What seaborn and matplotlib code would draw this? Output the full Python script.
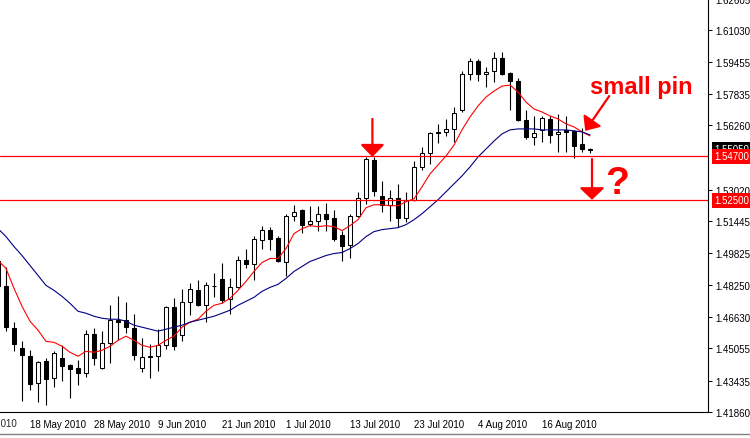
import numpy as np
import pandas as pd
import matplotlib
matplotlib.use('Agg')
import matplotlib.pyplot as plt
import matplotlib.transforms as mtransforms
from matplotlib.lines import Line2D
import seaborn as sns

# GBPUSD daily bars, 12 May 2010 (half cut at the left edge) .. 24 Aug 2010
dates = pd.bdate_range('2010-05-12', '2010-08-24')

opens = [1.4942, 1.4817, 1.4607, 1.4506, 1.4466, 1.4331, 1.4441, 1.4356, 1.4456, 1.4421,
         1.4406, 1.4381, 1.4577, 1.4406, 1.4531, 1.4647, 1.4647, 1.4607, 1.4406, 1.4461,
         1.4466, 1.4521, 1.4712, 1.4572, 1.4737, 1.4797, 1.4722, 1.4817, 1.4852, 1.4752,
         1.4812, 1.4952, 1.4927, 1.5052, 1.5102, 1.5062, 1.4937, 1.5172, 1.5202, 1.5132,
         1.5147, 1.5182, 1.5162, 1.5077, 1.5027, 1.5172, 1.5262, 1.5452, 1.5272, 1.5227,
         1.5262, 1.5162, 1.5252, 1.5417, 1.5487, 1.5593, 1.5593, 1.5608, 1.5703, 1.5883,
         1.5948, 1.5883, 1.5898, 1.5963, 1.5888, 1.5848, 1.5653, 1.5568, 1.5603, 1.5658,
         1.5583, 1.5603, 1.5598, 1.5532, 1.5504]
highs = [1.4982, 1.4912, 1.4637, 1.4541, 1.4496, 1.4441, 1.4456, 1.4491, 1.4521, 1.4426,
         1.4446, 1.4597, 1.4607, 1.4592, 1.4722, 1.4767, 1.4737, 1.4677, 1.4556, 1.4526,
         1.4602, 1.4717, 1.4757, 1.4802, 1.4832, 1.4847, 1.4837, 1.4882, 1.4932, 1.4857,
         1.4972, 1.5007, 1.5072, 1.5122, 1.5117, 1.5072, 1.5182, 1.5227, 1.5207, 1.5222,
         1.5222, 1.5237, 1.5202, 1.5097, 1.5182, 1.5292, 1.5467, 1.5467, 1.5347, 1.5302,
         1.5332, 1.5292, 1.5447, 1.5517, 1.5593, 1.5633, 1.5658, 1.5718, 1.5898, 1.5963,
         1.5958, 1.5918, 1.5993, 1.5993, 1.5893, 1.5863, 1.5703, 1.5673, 1.5673, 1.5673,
         1.5683, 1.5673, 1.5603, 1.5613, 1.5512]
lows = [1.4797, 1.4592, 1.4491, 1.4241, 1.4296, 1.4236, 1.4221, 1.4311, 1.4341, 1.4256,
        1.4321, 1.4361, 1.4421, 1.4401, 1.4431, 1.4546, 1.4582, 1.4446, 1.4386, 1.4356,
        1.4391, 1.4501, 1.4496, 1.4541, 1.4672, 1.4717, 1.4637, 1.4762, 1.4732, 1.4677,
        1.4807, 1.4907, 1.4847, 1.5007, 1.5002, 1.4937, 1.4867, 1.5147, 1.5087, 1.5122,
        1.5097, 1.5097, 1.5047, 1.4942, 1.4962, 1.5167, 1.5232, 1.5272, 1.5192, 1.5147,
        1.5117, 1.5142, 1.5247, 1.5402, 1.5432, 1.5537, 1.5573, 1.5542, 1.5693, 1.5853,
        1.5848, 1.5818, 1.5843, 1.5878, 1.5703, 1.5648, 1.5557, 1.5527, 1.5542, 1.5537,
        1.5492, 1.5492, 1.5462, 1.5492, 1.5487]
closes = [1.4817, 1.4612, 1.4526, 1.4471, 1.4326, 1.4436, 1.4351, 1.4481, 1.4416, 1.4401,
          1.4381, 1.4577, 1.4456, 1.4531, 1.4647, 1.4637, 1.4612, 1.4471, 1.4461, 1.4466,
          1.4521, 1.4712, 1.4516, 1.4737, 1.4802, 1.4722, 1.4822, 1.4818, 1.4747, 1.4812,
          1.4952, 1.4927, 1.5057, 1.5102, 1.5057, 1.4942, 1.5172, 1.5192, 1.5127, 1.5147,
          1.5182, 1.5157, 1.5057, 1.5022, 1.5172, 1.5262, 1.5457, 1.5297, 1.5227, 1.5262,
          1.5162, 1.5252, 1.5417, 1.5487, 1.5588, 1.5588, 1.5608, 1.5688, 1.5883, 1.5948,
          1.5883, 1.5893, 1.5963, 1.5883, 1.5848, 1.5653, 1.5568, 1.5588, 1.5663, 1.5578,
          1.5593, 1.5593, 1.5522, 1.5507, 1.5505]

# moving averages as drawn on the chart (red = fast, navy = slow)
ma_fast = [1.4947, 1.4907, 1.4807, 1.4717, 1.4642, 1.4597, 1.4541, 1.4536, 1.4516, 1.4486,
           1.4466, 1.4491, 1.4486, 1.4496, 1.4516, 1.4546, 1.4567, 1.4546, 1.4521, 1.4511,
           1.4521, 1.4546, 1.4567, 1.4612, 1.4637, 1.4652, 1.4692, 1.4722, 1.4732, 1.4757,
           1.4797, 1.4842, 1.4892, 1.4937, 1.4957, 1.4957, 1.5007, 1.5082, 1.5107, 1.5122,
           1.5117, 1.5122, 1.5117, 1.5097, 1.5122, 1.5152, 1.5212, 1.5227, 1.5227, 1.5222,
           1.5222, 1.5242, 1.5257, 1.5317, 1.5382, 1.5427, 1.5472, 1.5527, 1.5603, 1.5668,
           1.5723, 1.5768, 1.5798, 1.5823, 1.5828, 1.5793, 1.5743, 1.5708, 1.5693, 1.5673,
           1.5658, 1.5633, 1.5618, 1.5593, 1.5573]
ma_slow = [1.5107, 1.5067, 1.5017, 1.4972, 1.4922, 1.4872, 1.4822, 1.4797, 1.4767, 1.4732,
           1.4692, 1.4682, 1.4667, 1.4657, 1.4652, 1.4652, 1.4642, 1.4622, 1.4612, 1.4602,
           1.4592, 1.4602, 1.4612, 1.4622, 1.4637, 1.4647, 1.4657, 1.4667, 1.4682, 1.4697,
           1.4722, 1.4742, 1.4762, 1.4792, 1.4812, 1.4827, 1.4857, 1.4892, 1.4917, 1.4942,
           1.4957, 1.4972, 1.4982, 1.4987, 1.5007, 1.5032, 1.5067, 1.5092, 1.5102, 1.5107,
           1.5112, 1.5127, 1.5152, 1.5182, 1.5217, 1.5252, 1.5292, 1.5332, 1.5372, 1.5417,
           1.5467, 1.5507, 1.5547, 1.5583, 1.5603, 1.5608, 1.5608, 1.5608, 1.5603, 1.5603,
           1.5603, 1.5603, 1.5598, 1.5593, 1.5578]

levels = [1.5470, 1.5250]
level_labels = ['1.54700', '1.52500']
last_price = 1.5505
last_label = '1.55050'

price_ticks = [1.62605, 1.61030, 1.59455, 1.57835, 1.56260, 1.53020, 1.51445,
               1.49825, 1.48250, 1.46630, 1.45055, 1.43435, 1.41860]
date_labels = ['6 May 2010', '18 May 2010', '28 May 2010', '9 Jun 2010', '21 Jun 2010',
               '1 Jul 2010', '13 Jul 2010', '23 Jul 2010', '4 Aug 2010', '16 Aug 2010']

df = pd.DataFrame({'date': dates, 'open': opens, 'high': highs, 'low': lows,
                   'close': closes, 'ma_fast': ma_fast, 'ma_slow': ma_slow})
df['i'] = np.arange(len(df))

sns.set_style('white')
plt.rcParams['font.family'] = ['Liberation Sans', 'DejaVu Sans']

fig = plt.figure(figsize=(7.5, 4.39), dpi=100)
ax = fig.add_axes([0, 26 / 439, 708 / 750, 413 / 439])
ax.set_facecolor('white')

# candles
bull = df['close'] >= df['open']
ax.vlines(df['i'], df['low'], df['high'], color='black', lw=0.8, zorder=2)
body = (df['close'] - df['open']).abs().clip(lower=0.00005)
ax.bar(df['i'], body, bottom=df[['open', 'close']].min(axis=1), width=0.56,
       color=np.where(bull, 'white', 'black'), edgecolor='black', lw=0.75, zorder=3)

# moving averages
sns.lineplot(data=df, x='i', y='ma_fast', color='#ff0000', lw=0.8, ax=ax, zorder=4)
sns.lineplot(data=df, x='i', y='ma_slow', color='#000080', lw=0.8, ax=ax, zorder=4)

for lv in levels:
  ax.axhline(lv, color='#ff0000', lw=0.9, zorder=5)

ax.set_xlim(0.25, 88.75)
ax.set_ylim(1.41911, 1.62582)

# axes look like the terminal window
for side in ['left', 'top']:
  ax.spines[side].set_visible(False)
for side in ['right', 'bottom']:
  ax.spines[side].set_color('black')
  ax.spines[side].set_linewidth(0.8)
ax.yaxis.tick_right()
ax.set_yticks(price_ticks, ['%.5f' % p for p in price_ticks])
ax.tick_params(axis='y', direction='out', length=3, width=0.7, pad=2, labelsize=7, colors='black')

label_days = pd.to_datetime(date_labels, format='%d %b %Y')
label_pos = [np.busday_count(dates[0].date(), d.date()) for d in label_days]
ax.set_xticks([p for p in label_pos if p > 0], [l for p, l in zip(label_pos, date_labels) if p > 0])
for lbl in ax.get_xticklabels():
  lbl.set_ha('left')
ax.tick_params(axis='x', direction='out', length=3, width=0.7, pad=2, labelsize=7, colors='black')
for p, l in zip(label_pos, date_labels):
  if p <= 0:
    ax.annotate(l, xy=(p, 0), xycoords=ax.get_xaxis_transform(), xytext=(0, -4.3),
                textcoords='offset points', ha='left', va='top', fontsize=7, annotation_clip=False)
ax.set_xlabel('')
ax.set_ylabel('')

# price boxes on the scale
trans = mtransforms.blended_transform_factory(ax.transAxes, ax.transData)
ax.annotate(last_label, xy=(1, last_price), xycoords=trans, xytext=(4.5, 0), textcoords='offset points',
            ha='left', va='center', fontsize=7, color='white', annotation_clip=False, zorder=6,
            bbox=dict(boxstyle='square,pad=0.25', fc='black', ec='none'))
for lv, lab in zip(levels, level_labels):
  ax.annotate(lab, xy=(1, lv), xycoords=trans, xytext=(4.5, 0), textcoords='offset points',
              ha='left', va='center', fontsize=7, color='white', annotation_clip=False, zorder=7,
              bbox=dict(boxstyle='square,pad=0.25', fc='#ff0000', ec='none'))

# hand drawn marks
red = '#ff0000'
ax.annotate('', xy=(46.8, 1.5467), xytext=(46.8, 1.5658),
            arrowprops=dict(arrowstyle='-|>,head_length=7.5,head_width=7.3', mutation_scale=1,
                            color=red, lw=1.6, shrinkA=0, shrinkB=0), zorder=8)
ax.annotate('', xy=(74.25, 1.5252), xytext=(74.25, 1.5457),
            arrowprops=dict(arrowstyle='-|>,head_length=7.2,head_width=7.6', mutation_scale=1,
                            color=red, lw=1.6, shrinkA=0, shrinkB=0), zorder=8)
ax.annotate('', xy=(73.4, 1.5598), xytext=(76.4, 1.5773),
            arrowprops=dict(arrowstyle='-|>,head_length=7.5,head_width=6.5', mutation_scale=1,
                            color=red, lw=1.6, shrinkA=0, shrinkB=0), zorder=8)
ax.text(74.0, 1.5820, 'small pin', color=red, fontsize=17, fontweight='bold',
        ha='left', va='center', zorder=8)
ax.text(77.4, 1.5334, '?', color=red, fontsize=28, fontweight='bold',
        ha='center', va='center', zorder=8)

fig.add_artist(Line2D([0, 1], [4 / 439, 4 / 439], color='#808080', lw=1))

plt.savefig('out.png', dpi=100)
plt.close()
